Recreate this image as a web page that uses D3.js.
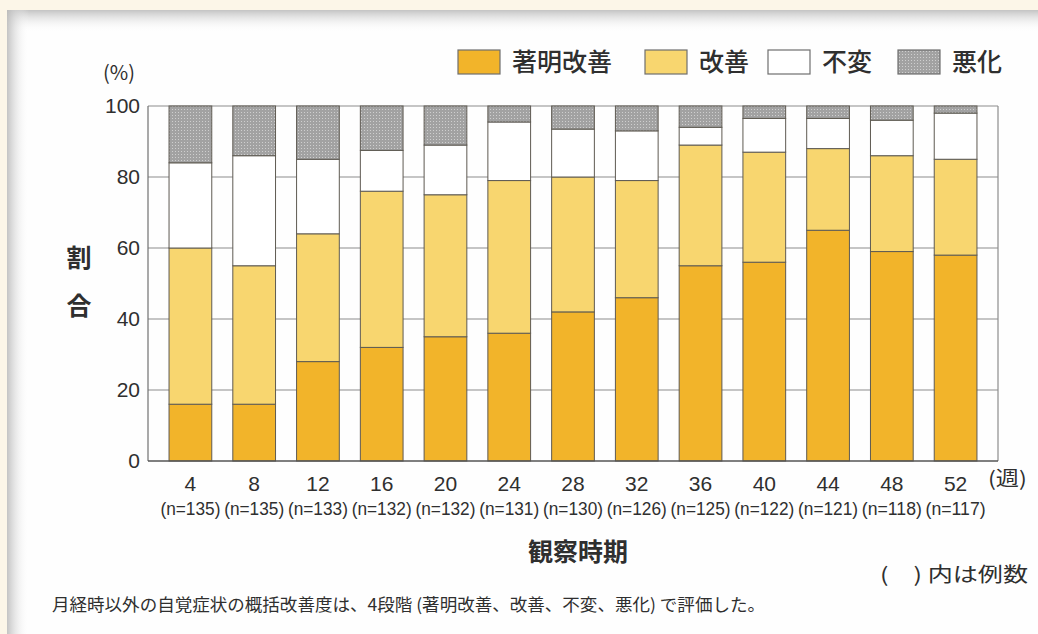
<!DOCTYPE html>
<html>
<head>
<meta charset="utf-8">
<script src="https://cdn.jsdelivr.net/npm/d3@7/dist/d3.min.js"></script>
<style>
  html, body { margin: 0; padding: 0; background: #fcf6e8; }
  svg { display: block; }
  text { fill: #2f2f2f; }
</style>
</head>
<body>
<svg id="chart" width="1038" height="634"></svg>
<script>
// 観察時期（週）と例数
const weeks = [4, 8, 12, 16, 20, 24, 28, 32, 36, 40, 44, 48, 52];
const nCounts = [135, 135, 133, 132, 132, 131, 130, 126, 125, 122, 121, 118, 117];

// 各評価の割合（%）
const marked    = [16, 16, 28, 32, 35, 36, 42, 46, 55, 56, 65, 59, 58];     // 著明改善
const improved  = [44, 39, 36, 44, 40, 43, 38, 33, 34, 31, 23, 27, 27];     // 改善
const unchanged = [24, 31, 21, 11.5, 14, 16.5, 13.5, 14, 5, 9.5, 8.5, 10, 13]; // 不変
const worsened  = [16, 14, 15, 12.5, 11, 4.5, 6.5, 7, 6, 3.5, 3.5, 4, 2];   // 悪化

const categories = ["著明改善", "改善", "不変", "悪化"];
const yTicks = [0, 20, 40, 60, 80, 100];

const rows = weeks.map((w, i) => ({
  week: w,
  "著明改善": marked[i],
  "改善": improved[i],
  "不変": unchanged[i],
  "悪化": worsened[i]
}));

const svg = d3.select("#chart");
const W = 1038, H = 634;
const jp = "'Noto Sans CJK JP', 'Noto Sans CJK SC', sans-serif";
const num = "'Liberation Sans', Arial, sans-serif";

// 用紙の背景と縁の陰影
const defs = svg.append("defs");
const gTop = defs.append("linearGradient").attr("id", "shadeTop")
  .attr("x1", 0).attr("y1", 0).attr("x2", 0).attr("y2", 1);
gTop.append("stop").attr("offset", "0%").attr("stop-color", "#b9b9b9").attr("stop-opacity", 0.85);
gTop.append("stop").attr("offset", "100%").attr("stop-color", "#ffffff").attr("stop-opacity", 0);
const gLeft = defs.append("linearGradient").attr("id", "shadeLeft")
  .attr("x1", 0).attr("y1", 0).attr("x2", 1).attr("y2", 0);
gLeft.append("stop").attr("offset", "0%").attr("stop-color", "#b9b9b9").attr("stop-opacity", 0.85);
gLeft.append("stop").attr("offset", "100%").attr("stop-color", "#ffffff").attr("stop-opacity", 0);

// 悪化の網点
const pat = defs.append("pattern").attr("id", "dots")
  .attr("width", 3).attr("height", 3).attr("patternUnits", "userSpaceOnUse");
pat.append("rect").attr("width", 3).attr("height", 3).attr("fill", "#a2a2a2");
pat.append("rect").attr("x", 1).attr("y", 1).attr("width", 1).attr("height", 1).attr("fill", "#cfcfcf");

svg.append("rect").attr("width", W).attr("height", H).attr("fill", "#fcf6e8");
svg.append("rect").attr("x", 7).attr("y", 10).attr("width", W - 7).attr("height", H - 10).attr("fill", "#fefefe");
svg.append("rect").attr("x", 7).attr("y", 10).attr("width", W - 7).attr("height", 22).attr("fill", "url(#shadeTop)");
svg.append("rect").attr("x", 7).attr("y", 10).attr("width", 22).attr("height", H - 10).attr("fill", "url(#shadeLeft)");

const colors = {
  "著明改善": "#f2b42a",
  "改善": "#f8d66f",
  "不変": "#ffffff",
  "悪化": "url(#dots)"
};

// スケール
const plotL = 148, plotR = 998, plotT = 106, plotB = 461;
const x = d3.scaleBand().domain(weeks).range([plotL, plotR]).paddingInner(0.33).paddingOuter(0.33);
const y = d3.scaleLinear().domain([0, 100]).range([plotB, plotT]);

// 目盛線
svg.append("g").selectAll("line").data(yTicks.filter(t => t > 0)).join("line")
  .attr("x1", plotL).attr("x2", plotR)
  .attr("y1", d => y(d)).attr("y2", d => y(d))
  .attr("stroke", "#8c8c8c").attr("stroke-width", 1.2);

// 枠
svg.append("line").attr("x1", plotL).attr("x2", plotL).attr("y1", plotT).attr("y2", plotB)
  .attr("stroke", "#707070").attr("stroke-width", 1.2);
svg.append("line").attr("x1", plotR).attr("x2", plotR).attr("y1", plotT).attr("y2", plotB)
  .attr("stroke", "#8c8c8c").attr("stroke-width", 1.2);

// 積み上げ棒
const stack = d3.stack().keys(categories)(rows);
svg.append("g").selectAll("g").data(stack).join("g")
  .attr("fill", d => colors[d.key])
  .selectAll("rect").data(d => d).join("rect")
  .attr("x", d => x(d.data.week))
  .attr("width", x.bandwidth())
  .attr("y", d => y(d[1]))
  .attr("height", d => y(d[0]) - y(d[1]))
  .attr("stroke", "#5e5a52").attr("stroke-width", 1);

// 横軸線
svg.append("line").attr("x1", plotL).attr("x2", plotR).attr("y1", plotB).attr("y2", plotB)
  .attr("stroke", "#555").attr("stroke-width", 1.4);

// 縦軸目盛ラベル
const yAxis = d3.axisLeft(y).tickValues(yTicks).tickSize(0).tickPadding(8);
const gy = svg.append("g").attr("transform", `translate(${plotL},0)`).call(yAxis);
gy.select(".domain").remove();
gy.selectAll("text").attr("font-family", num).attr("font-size", 21).attr("fill", "#333");

svg.append("text").attr("x", 119).attr("y", 80).attr("text-anchor", "middle")
  .attr("font-family", jp).attr("font-size", 20).text("(%)");

// 縦軸タイトル
svg.append("text").attr("x", 79).attr("y", 267).attr("text-anchor", "middle")
  .attr("font-family", jp).attr("font-size", 25).attr("font-weight", 700).text("割");
svg.append("text").attr("x", 79).attr("y", 315).attr("text-anchor", "middle")
  .attr("font-family", jp).attr("font-size", 25).attr("font-weight", 700).text("合");

// 横軸ラベル
const xAxis = d3.axisBottom(x).tickSize(0).tickPadding(10);
const gx = svg.append("g").attr("transform", `translate(0,${plotB})`).call(xAxis);
gx.select(".domain").remove();
gx.selectAll("text").attr("font-family", num).attr("font-size", 21).attr("fill", "#333")
  .attr("dy", "0.95em");

svg.append("g").selectAll("text").data(weeks).join("text")
  .attr("x", d => x(d) + x.bandwidth() / 2)
  .attr("y", 515)
  .attr("text-anchor", "middle")
  .attr("font-family", num).attr("font-size", 18)
  .attr("textLength", 60).attr("lengthAdjust", "spacingAndGlyphs")
  .text((d, i) => `(n=${nCounts[i]})`);

svg.append("text").attr("x", 988).attr("y", 486)
  .attr("font-family", jp).attr("font-size", 20)
  .attr("textLength", 39).attr("lengthAdjust", "spacingAndGlyphs").text("(週)");

svg.append("text").attr("x", 578).attr("y", 561).attr("text-anchor", "middle")
  .attr("font-family", jp).attr("font-size", 25).attr("font-weight", 700).text("観察時期");

svg.append("text").attr("x", 880).attr("y", 582)
  .attr("font-family", jp).attr("font-size", 20)
  .attr("textLength", 148).attr("lengthAdjust", "spacingAndGlyphs").text("(　) 内は例数");

svg.append("text").attr("x", 52).attr("y", 611)
  .attr("font-family", jp).attr("font-size", 17)
  .attr("textLength", 713).attr("lengthAdjust", "spacingAndGlyphs")
  .text("月経時以外の自覚症状の概括改善度は、4段階 (著明改善、改善、不変、悪化) で評価した。");

// 凡例
const legendX = [458, 645, 768, 898];
const legend = svg.append("g").selectAll("g").data(categories).join("g")
  .attr("transform", (d, i) => `translate(${legendX[i]},50)`);
legend.append("rect").attr("width", 42).attr("height", 24)
  .attr("fill", d => colors[d]).attr("stroke", "#6e6e6e").attr("stroke-width", 1.2);
legend.append("text").attr("x", 54).attr("y", 21)
  .attr("font-family", jp).attr("font-size", 25).attr("font-weight", 500)
  .text(d => d);
</script>
</body>
</html>
